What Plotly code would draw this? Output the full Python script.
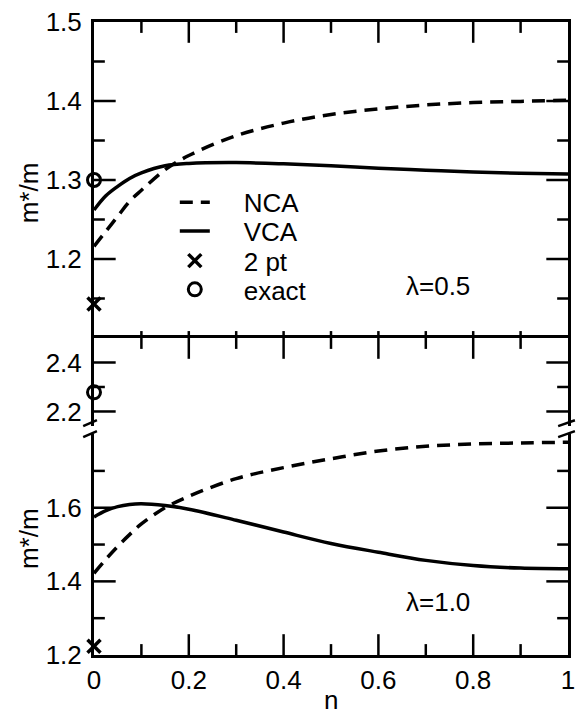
import plotly.graph_objects as go
from plotly.subplots import make_subplots

# Carrier density grid
n = [0, 0.025, 0.05, 0.075, 0.1, 0.15, 0.2, 0.3, 0.4, 0.5, 0.6, 0.7, 0.8, 0.9, 1.0]

# lambda = 0.5
nca_05 = [1.216, 1.235, 1.254, 1.273, 1.287, 1.313, 1.331, 1.356, 1.372, 1.383,
          1.390, 1.395, 1.398, 1.3995, 1.401]
vca_05 = [1.262, 1.280, 1.292, 1.302, 1.309, 1.318, 1.321, 1.322, 1.3205, 1.318,
          1.315, 1.3125, 1.310, 1.3085, 1.3075]
two_pt_05 = 1.143
exact_05 = 1.30

# lambda = 1.0
nca_10 = [1.422, 1.460, 1.495, 1.527, 1.556, 1.600, 1.631, 1.679, 1.709, 1.733,
          1.754, 1.767, 1.773, 1.776, 1.778]
vca_10 = [1.575, 1.592, 1.603, 1.609, 1.611, 1.606, 1.596, 1.566, 1.534, 1.503,
          1.479, 1.457, 1.443, 1.436, 1.434]
two_pt_10 = 1.224
exact_10 = 2.278

x_major = [0, 0.2, 0.4, 0.6, 0.8, 1.0]
x_minor = [0.1, 0.3, 0.5, 0.7, 0.9]

y_top_range, y_top_major, y_top_minor = [1.1, 1.5], [1.2, 1.3, 1.4, 1.5], [1.15, 1.25, 1.35, 1.45]
y_mid_range, y_mid_major, y_mid_minor = [2.14, 2.5], [2.2, 2.4], [2.3]
y_low_range, y_low_major, y_low_minor = [1.2, 1.8], [1.2, 1.4, 1.6], [1.3, 1.5, 1.7]

FONT = "Liberation Sans, Arial, Helvetica, sans-serif"
LW = 3.5
DASH = "13px,8px"
PAD = "\u00a0\u00a0\u00a0\u00a0"

W, H = 582, 721
ML, MR, MT, MB = 94, 7, 16, 66
PW, PH = W - ML - MR, H - MT - MB

# panel edges in pixels (top, bottom)
TOP_PX = (MT, 335)
MID_PX = (335, 424)
LOW_PX = (432, H - MB)


def px_x(px):
    return (px - ML) / PW


def px_y(py):
    return (H - MB - py) / PH


D_TOP = [px_y(TOP_PX[1]), px_y(TOP_PX[0])]
D_MID = [px_y(MID_PX[1]), px_y(MID_PX[0])]
D_LOW = [px_y(LOW_PX[1]), px_y(LOW_PX[0])]

fig = make_subplots(rows=3, cols=1, vertical_spacing=0)

# upper panel (lambda = 0.5)
fig.add_trace(go.Scatter(x=n, y=nca_05, mode="lines", name=PAD + "NCA", legend="legend",
                         line=dict(color="black", width=LW, dash=DASH, shape="spline")),
              row=1, col=1)
fig.add_trace(go.Scatter(x=n, y=vca_05, mode="lines", name=PAD + "VCA", legend="legend2",
                         line=dict(color="black", width=LW, shape="spline")),
              row=1, col=1)
fig.add_trace(go.Scatter(x=[0], y=[two_pt_05], mode="markers", name=PAD + "2 pt",
                         legend="legend3",
                         marker=dict(symbol="x-thin", size=13, color="black",
                                     line=dict(color="black", width=3.5)),
                         cliponaxis=False), row=1, col=1)
fig.add_trace(go.Scatter(x=[0], y=[exact_05], mode="markers", name=PAD + "exact",
                         legend="legend4",
                         marker=dict(symbol="circle-open", size=13, color="black",
                                     line=dict(color="black", width=3)),
                         cliponaxis=False), row=1, col=1)

# lower panel (lambda = 1.0), broken axis: upper piece holds the exact value
fig.add_trace(go.Scatter(x=[0], y=[exact_10], mode="markers", showlegend=False,
                         marker=dict(symbol="circle-open", size=13, color="black",
                                     line=dict(color="black", width=3)),
                         cliponaxis=False), row=2, col=1)
fig.add_trace(go.Scatter(x=n, y=nca_10, mode="lines", showlegend=False,
                         line=dict(color="black", width=LW, dash=DASH, shape="spline")),
              row=3, col=1)
fig.add_trace(go.Scatter(x=n, y=vca_10, mode="lines", showlegend=False,
                         line=dict(color="black", width=LW, shape="spline")),
              row=3, col=1)
fig.add_trace(go.Scatter(x=[0], y=[two_pt_10], mode="markers", showlegend=False,
                         marker=dict(symbol="x-thin", size=13, color="black",
                                     line=dict(color="black", width=3.5)),
                         cliponaxis=False), row=3, col=1)

tickfont = dict(family=FONT, size=26, color="black")
line_style = dict(showline=True, linecolor="black", linewidth=3,
                  showgrid=False, zeroline=False, ticks="")

fig.update_xaxes(**line_style, range=[0, 1], tickmode="array", tickvals=x_major,
                 tickfont=tickfont)
fig.update_xaxes(side="top", showticklabels=False, row=1, col=1)
fig.update_xaxes(side="top", showticklabels=False, row=2, col=1)
fig.update_xaxes(side="bottom", showticklabels=True, row=3, col=1)

fig.update_yaxes(**line_style, mirror=True, tickfont=tickfont, tickmode="array",
                 ticklabelstandoff=4)
fig.update_yaxes(range=y_top_range, domain=D_TOP, tickvals=y_top_major, row=1, col=1)
fig.update_yaxes(range=y_mid_range, domain=D_MID, tickvals=y_mid_major, row=2, col=1)
fig.update_yaxes(range=y_low_range, domain=D_LOW, tickvals=y_low_major, row=3, col=1)

# inward tick marks on the paper, placed through each panel's range -> domain mapping
TICK = dict(type="line", xref="paper", yref="paper", layer="above",
            line=dict(color="black", width=2.5))


def y_paper(v, rng, dom):
    return dom[0] + (v - rng[0]) / (rng[1] - rng[0]) * (dom[1] - dom[0])


def panel_ticks(rng, dom, y_major, y_minor, x_top, x_bottom):
    for vals, length in x_top:
        for v in vals:
            if 0 < v < 1:
                fig.add_shape(**TICK, x0=v, x1=v, y0=dom[1], y1=dom[1] - length / PH)
    for vals, length in x_bottom:
        for v in vals:
            if 0 < v < 1:
                fig.add_shape(**TICK, x0=v, x1=v, y0=dom[0], y1=dom[0] + length / PH)
    for vals, length in ((y_major, 22), (y_minor, 11)):
        for v in vals:
            if rng[0] < v < rng[1]:
                yp = y_paper(v, rng, dom)
                fig.add_shape(**TICK, x0=0, x1=length / PW, y0=yp, y1=yp)
                fig.add_shape(**TICK, x0=1, x1=1 - length / PW, y0=yp, y1=yp)


panel_ticks(y_top_range, D_TOP, y_top_major, y_top_minor,
            x_top=[(x_major, 21), (x_minor, 11)], x_bottom=[(x_major + x_minor, 7)])
panel_ticks(y_mid_range, D_MID, y_mid_major, y_mid_minor,
            x_top=[(x_major, 21), (x_minor, 11)], x_bottom=[])
panel_ticks(y_low_range, D_LOW, y_low_major, y_low_minor,
            x_top=[], x_bottom=[(x_major, 21), (x_minor, 11)])

legend_base = dict(x=px_x(176), xanchor="left", yanchor="middle",
                   bgcolor="rgba(0,0,0,0)", borderwidth=0,
                   font=dict(family=FONT, size=26, color="black"))
fig.update_layout(
    width=W, height=H,
    margin=dict(l=ML, r=MR, t=MT, b=MB),
    paper_bgcolor="white", plot_bgcolor="white",
    font=dict(family=FONT, color="black"),
    showlegend=True,
    legend=dict(**legend_base, y=px_y(198)),
    legend2=dict(**legend_base, y=px_y(227)),
    legend3=dict(**legend_base, y=px_y(257)),
    legend4=dict(**legend_base, y=px_y(286)),
)

# axis-break marks on both sides of the lower panel
brk = dict(type="line", xref="paper", yref="paper",
           line=dict(color="black", width=2.5))
for x0, x1 in [(83, 97), (565, 582)]:
    fig.add_shape(**brk, x0=px_x(x0), x1=px_x(x1), y0=px_y(424), y1=px_y(418))
    fig.add_shape(**brk, x0=px_x(x0), x1=px_x(x1), y0=px_y(435), y1=px_y(429))

ann = dict(xref="paper", yref="paper", showarrow=False, xanchor="center",
           yanchor="middle", font=dict(family=FONT, size=26, color="black"))
fig.add_annotation(**ann, text="m*/m", textangle=-90, x=px_x(28), y=px_y(188))
fig.add_annotation(**ann, text="m*/m", textangle=-90, x=px_x(28), y=px_y(537))
fig.add_annotation(**ann, text="n", x=px_x(335), y=px_y(700))
fig.add_annotation(**ann, text="λ=0.5", x=px_x(443), y=px_y(283))
fig.add_annotation(**ann, text="λ=1.0", x=px_x(443), y=px_y(602))

fig.write_html("out.html")
